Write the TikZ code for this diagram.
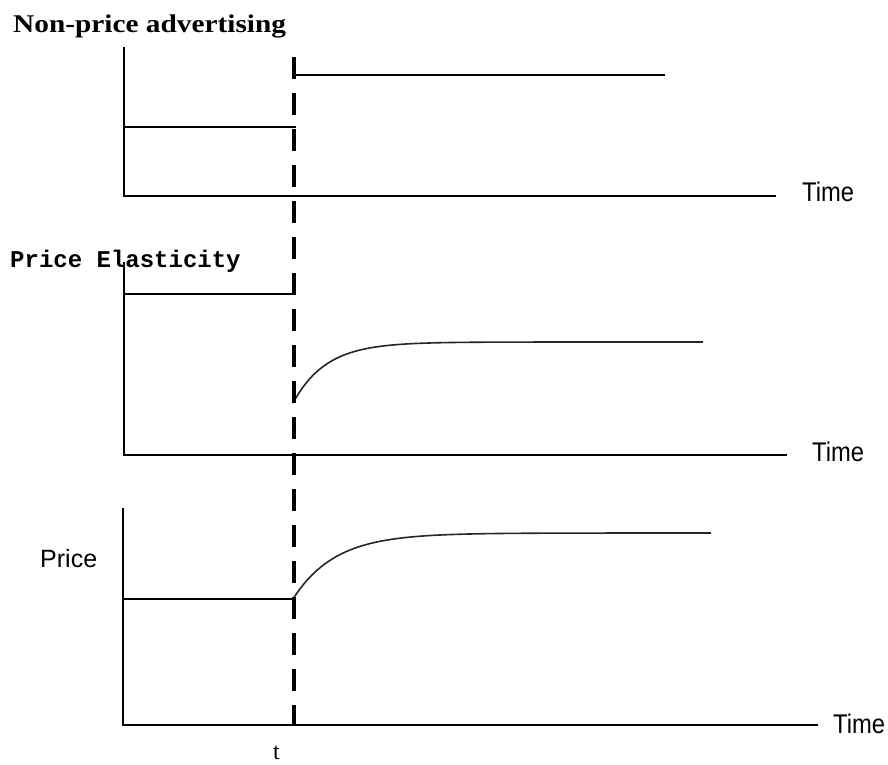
\documentclass[tikz,border=0pt]{standalone}
\usepackage{fontspec}
\setmainfont{Liberation Serif}
\newfontfamily\sansf{Liberation Sans}
\newfontfamily\monof{Liberation Mono}
\begin{document}
\begin{tikzpicture}[x=1pt,y=-1pt,
  axisline/.style={line width=2pt,black},
  levelline/.style={line width=1.8pt,black},
  curveline/.style={line width=1.6pt,black!85},
  tline/.style={line width=3.6pt,black,dash pattern=on 22pt off 14pt},
  lbl/.style={inner sep=0pt,anchor=base west},
  timelbl/.style={lbl,font=\sansf\fontsize{27}{30}\selectfont}]
\useasboundingbox (0,0) rectangle (888,764);
\fill[white] (0,0) rectangle (888,764);

% titles
\node[lbl,font=\bfseries\fontsize{25.5}{30}\selectfont] (title) at (13,32) {\scalebox{1.15}[1]{Non-price advertising}};
\node[lbl,font=\monof\bfseries\fontsize{24}{28}\selectfont] (elast) at (10,267) {Price Elasticity};
\node[lbl,font=\sansf\fontsize{25}{28}\selectfont] (price) at (40,567) {Price};
\node[lbl,font=\fontsize{24}{28}\selectfont] (tl) at (273,759) {t};

% top panel
\coordinate (o1) at (124,196);
\coordinate (y1) at (124,47);
\coordinate (x1) at (776,196);
\draw[axisline] (y1) -- (o1) -- (x1);
\node[timelbl] (time1) at (802,201) {\scalebox{0.88}[1]{Time}};
\coordinate (a0) at (124,127);
\coordinate (a1) at (296,127);
\coordinate (b0) at (293,75);
\coordinate (b1) at (665,75);
\draw[levelline] (a0) -- (a1);
\draw[levelline] (b0) -- (b1);

% middle panel
\coordinate (o2) at (124,455);
\coordinate (y2) at (124,262);
\coordinate (x2) at (787,455);
\draw[axisline] (y2) -- (o2) -- (x2);
\node[timelbl] (time2) at (812,461) {\scalebox{0.88}[1]{Time}};
\coordinate (c0) at (124,294);
\coordinate (c1) at (293,294);
\draw[levelline] (c0) -- (c1);
\draw[curveline] plot[domain=293:703,samples=120] (\x,{342+61*exp(-(\x-293)/33)});

% bottom panel
\coordinate (o3) at (123,725);
\coordinate (y3) at (123,508);
\coordinate (x3) at (818,725);
\draw[axisline] (y3) -- (o3) -- (x3);
\node[timelbl] (time3) at (833,733) {\scalebox{0.88}[1]{Time}};
\coordinate (d0) at (123,599);
\coordinate (d1) at (293,599);
\draw[levelline] (d0) -- (d1);
\draw[curveline] plot[domain=293:711,samples=120] (\x,{533+66*exp(-(\x-293)/42)});

% dashed time line
\coordinate (ttop) at (294,57);
\coordinate (tbot) at (294,725);
\draw[tline] (ttop) -- (tbot);
\end{tikzpicture}
\end{document}
